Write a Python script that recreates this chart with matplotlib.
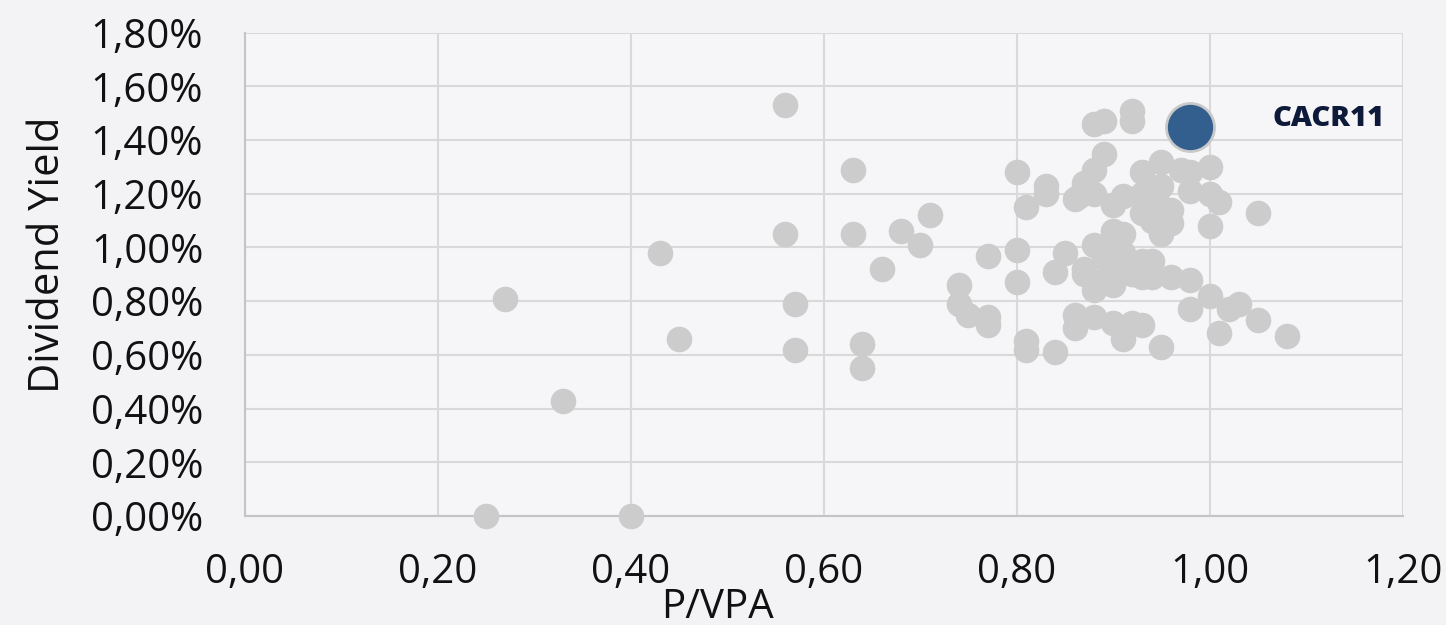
import matplotlib
matplotlib.use("Agg")
import matplotlib.pyplot as plt
from matplotlib.ticker import FuncFormatter, MultipleLocator

# peers: P/VPA and dividend yield (%)
peer_pvp = [
    0.25, 0.40, 0.27, 0.33, 0.43, 0.45,
    0.56, 0.56, 0.57, 0.57, 0.63, 0.63, 0.64, 0.64, 0.66, 0.68, 0.70, 0.71,
    0.74, 0.74, 0.75, 0.77, 0.77, 0.77,
    0.80, 0.80, 0.80, 0.81, 0.81, 0.81,
    0.83, 0.83, 0.84, 0.84, 0.85,
    0.86, 0.86, 0.86, 0.865,
    0.87, 0.87, 0.87,
    0.88, 0.88, 0.88, 0.88, 0.88, 0.88,
    0.89, 0.89, 0.89, 0.89,
    0.90, 0.90, 0.90, 0.90, 0.90, 0.90,
    0.91, 0.91, 0.91, 0.91, 0.91,
    0.92, 0.92, 0.92, 0.92, 0.92,
    0.93, 0.93, 0.93, 0.93, 0.93, 0.93,
    0.94, 0.94, 0.94, 0.94,
    0.95, 0.95, 0.95, 0.95, 0.95,
    0.96, 0.96, 0.96,
    0.97,
    0.98, 0.98, 0.98, 0.98,
    1.00, 1.00, 1.00, 1.00,
    1.01, 1.01,
    1.02, 1.03,
    1.05, 1.05, 1.08,
]
peer_dy = [
    0.00, 0.00, 0.81, 0.43, 0.98, 0.66,
    1.53, 1.05, 0.79, 0.62, 1.29, 1.05, 0.64, 0.55, 0.92, 1.06, 1.01, 1.12,
    0.86, 0.79, 0.75, 0.97, 0.74, 0.71,
    1.28, 0.99, 0.87, 1.15, 0.65, 0.62,
    1.23, 1.20, 0.91, 0.61, 0.98,
    1.18, 0.75, 0.70, 1.19,
    1.24, 0.92, 0.90,
    1.46, 1.29, 1.20, 1.01, 0.84, 0.74,
    1.47, 1.35, 0.96, 0.88,
    1.16, 1.06, 0.99, 0.90, 0.86, 0.72,
    1.19, 1.05, 0.98, 0.69, 0.66,
    1.51, 1.47, 0.93, 0.90, 0.72,
    1.28, 1.20, 1.13, 0.95, 0.89, 0.71,
    1.13, 1.10, 0.95, 0.89,
    1.32, 1.23, 1.15, 1.05, 0.63,
    1.14, 1.09, 0.89,
    1.29,
    1.28, 1.21, 0.88, 0.77,
    1.30, 1.20, 1.08, 0.82,
    1.17, 0.68,
    0.77, 0.79,
    1.13, 0.73, 0.67,
]

fund_name = "CACR11"
fund_pvp = 0.98
fund_dy = 1.45

x_ticks = [0.0, 0.2, 0.4, 0.6, 0.8, 1.0, 1.2]

plt.rcParams["font.family"] = ["Open Sans", "DejaVu Sans"]

fig, ax = plt.subplots(figsize=(14.46, 6.25), dpi=100)
fig.patch.set_facecolor("#f3f3f5")
ax.set_facecolor("#f6f6f8")
fig.subplots_adjust(left=0.1694, right=0.970, top=0.9477, bottom=0.1744)

ax.scatter(peer_pvp, peer_dy, s=340, c="#cccccc", linewidths=0, zorder=3, clip_on=False)
ax.scatter([fund_pvp], [fund_dy], s=1200, c="#335f8f", edgecolors="#c9c9c9",
           linewidths=2, zorder=4, clip_on=False)
ax.text(1.065, 1.48, fund_name, fontsize=21, fontweight="heavy", color="#0e1a3a",
        ha="left", va="center")

ax.set_xlim(0, 1.2)
ax.set_ylim(0, 1.8)
ax.set_xticks(x_ticks)
ax.yaxis.set_major_locator(MultipleLocator(0.2))
ax.xaxis.set_major_formatter(FuncFormatter(lambda v, p: f"{v:.2f}".replace(".", ",")))
ax.yaxis.set_major_formatter(FuncFormatter(lambda v, p: f"{v:.2f}%".replace(".", ",")))

ax.grid(True, color="#d9d9d9", linewidth=1.5, zorder=0)
ax.set_axisbelow(True)
for side in ["top", "right"]:
    ax.spines[side].set_visible(False)
for side in ["left", "bottom"]:
    ax.spines[side].set_color("#c4c4c4")
    ax.spines[side].set_linewidth(1.5)

ax.tick_params(length=0, labelsize=29, colors="#111111")
ax.tick_params(axis="y", pad=30)
ax.tick_params(axis="x", pad=26)

ax.set_xlabel("P/VPA", fontsize=29, color="#111111")
ax.set_ylabel("Dividend Yield", fontsize=30, color="#111111")
ax.xaxis.set_label_coords(0.408, -0.148)
ax.yaxis.set_label_coords(-0.152, 0.54)

fig.savefig("out.png", dpi=100, facecolor=fig.get_facecolor())
